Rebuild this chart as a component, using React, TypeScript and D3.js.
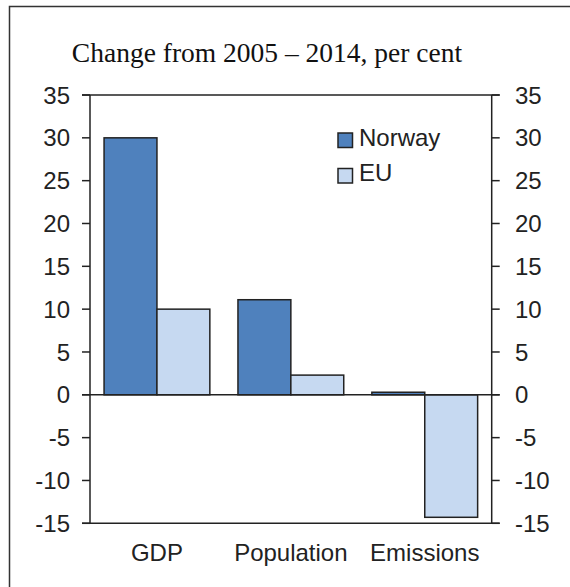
import React from "react";
import * as d3 from "d3";

const categories = ["GDP", "Population", "Emissions"];
const seriesNames = ["Norway", "EU"];
const norwayValues = [30, 11.1, 0.3];
const euValues = [10, 2.3, -14.3];
const yTicks = [35, 30, 25, 20, 15, 10, 5, 0, -5, -10, -15];
const title = "Change from 2005 – 2014, per cent";

const colors = ["#4F81BD", "#C6D9F1"];
const stroke = "#222";

export default function App() {
  const W = 570;
  const H = 587;
  const left = 90;
  const right = 491.7;
  const top = 95;
  const bottom = 523.3;

  const y = d3.scaleLinear().domain([-15, 35]).range([bottom, top]);
  const x0 = d3
    .scaleBand<string>()
    .domain(categories)
    .range([left, right])
    .paddingInner(0.21)
    .paddingOuter(0.105);
  const x1 = d3
    .scaleBand<string>()
    .domain(seriesNames)
    .range([0, x0.bandwidth()])
    .padding(0);

  const series = [norwayValues, euValues];
  const sans = "Liberation Sans, Arial, sans-serif";

  return (
    <svg
      width={W}
      height={H}
      style={{ position: "absolute", left: 0, top: 0 }}
    >
      <rect x={0} y={0} width={W} height={H} fill="#fff" />
      {/* outer frame */}
      <rect
        x={9.5}
        y={6.5}
        width={W + 20}
        height={H + 20}
        fill="none"
        stroke="#333"
        strokeWidth={1.5}
      />
      <text
        x={267}
        y={62}
        textAnchor="middle"
        fontFamily="Liberation Serif, Times New Roman, serif"
        fontSize={27.5}
        fill="#111"
      >
        {title}
      </text>

      {/* bars */}
      {categories.map((c, i) => (
        <g key={c} transform={`translate(${x0(c)},0)`}>
          {seriesNames.map((s, j) => {
            const v = series[j][i];
            const y0 = y(Math.max(0, v));
            const h = Math.abs(y(v) - y(0));
            return (
              <rect
                key={s}
                x={x1(s)}
                y={y0}
                width={x1.bandwidth()}
                height={h}
                fill={colors[j]}
                stroke={stroke}
                strokeWidth={1.5}
              />
            );
          })}
        </g>
      ))}

      {/* axes lines */}
      <line x1={left} x2={left} y1={top} y2={bottom} stroke={stroke} strokeWidth={1.5} />
      <line x1={right} x2={right} y1={top} y2={bottom} stroke={stroke} strokeWidth={1.5} />
      {[35, 0, -15].map((v) => (
        <line
          key={"h" + v}
          x1={left - 8}
          x2={right + 8}
          y1={y(v)}
          y2={y(v)}
          stroke={stroke}
          strokeWidth={1.5}
        />
      ))}
      {yTicks.map((t) => (
        <g key={t}>
          <line x1={left - 8} x2={left} y1={y(t)} y2={y(t)} stroke={stroke} strokeWidth={1.5} />
          <line x1={right} x2={right + 8} y1={y(t)} y2={y(t)} stroke={stroke} strokeWidth={1.5} />
          <text
            x={70}
            y={y(t)}
            dy="0.36em"
            textAnchor="end"
            fontFamily={sans}
            fontSize={24}
            fill="#222"
          >
            {t}
          </text>
          <text
            x={515}
            y={y(t)}
            dy="0.36em"
            textAnchor="start"
            fontFamily={sans}
            fontSize={24}
            fill="#222"
          >
            {t}
          </text>
        </g>
      ))}

      {/* category labels */}
      {categories.map((c) => (
        <text
          key={c}
          x={(x0(c) as number) + x0.bandwidth() / 2}
          y={560.5}
          textAnchor="middle"
          fontFamily={sans}
          fontSize={24}
          fill="#222"
        >
          {c}
        </text>
      ))}

      {/* legend */}
      {seriesNames.map((s, j) => (
        <g key={s} transform={`translate(338,${133 + j * 35.5})`}>
          <rect
            x={0}
            y={0}
            width={14.5}
            height={14.5}
            fill={colors[j]}
            stroke={stroke}
            strokeWidth={1.5}
          />
          <text
            x={21}
            y={12.5}
            fontFamily={sans}
            fontSize={24}
            fill="#222"
          >
            {s}
          </text>
        </g>
      ))}
    </svg>
  );
}
